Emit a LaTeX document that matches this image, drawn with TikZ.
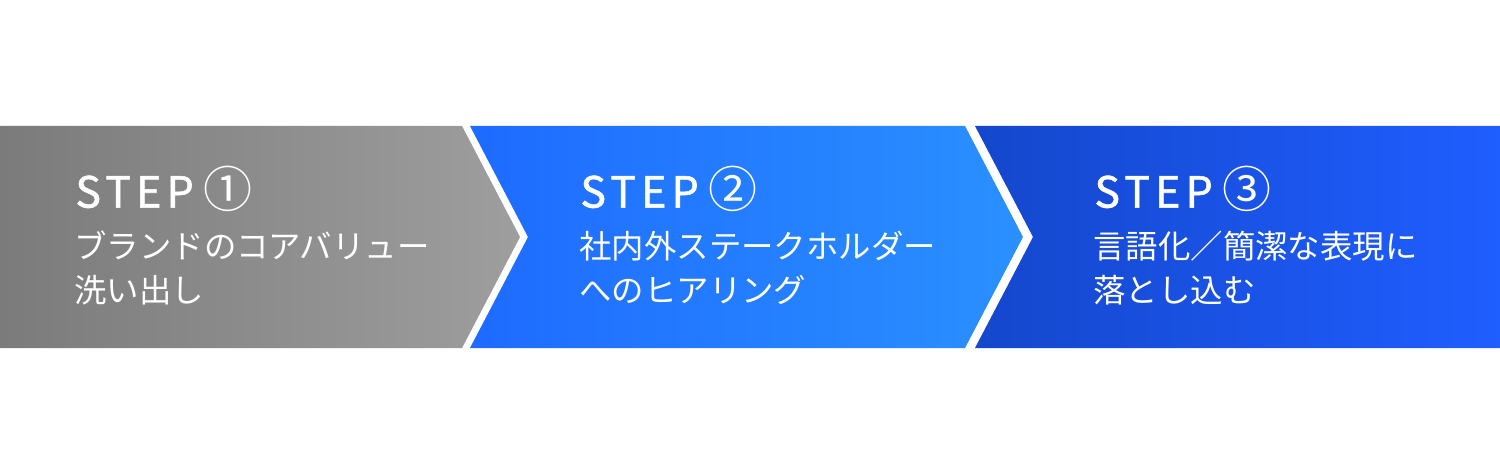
\documentclass[tikz,border=0pt]{standalone}
\usepackage{fontspec}
\setmainfont{Noto Sans CJK JP}
\newfontfamily\circfont{Noto Sans CJK JP}
\usepackage{xcolor}
\definecolor{grayL}{RGB}{122,123,122}
\definecolor{grayR}{RGB}{157,158,157}
\definecolor{blueL}{RGB}{30,107,255}
\definecolor{blueR}{RGB}{42,144,255}
\definecolor{navyL}{RGB}{20,71,204}
\definecolor{navyR}{RGB}{31,94,255}
\newcommand{\circnum}[1]{\hspace{5pt}{\circfont\fontsize{24.5}{25}\selectfont #1}}

\begin{document}
\begin{tikzpicture}[x=0.5pt, y=-0.5pt]
\tikzstyle{stepname} = [anchor=west, inner sep=0pt, text=white, font=\addfontfeature{LetterSpace=12,FakeBold=1.2}\fontsize{21.5}{25}\selectfont]
\tikzstyle{stepdesc} = [anchor=west, inner sep=0pt, text=white, align=left, font=\fontsize{16.2}{22}\selectfont]
\fill[white] (0,0) rectangle (1500,476);
% arrows
\shade[left color=grayL, right color=grayR] (0,126) -- (462,126) -- (520,237) -- (462,348) -- (0,348) -- cycle;
\shade[left color=blueL, right color=blueR] (470,126) -- (965,126) -- (1023,237) -- (965,348) -- (470,348) -- (528,237) -- cycle;
\shade[left color=navyL, right color=navyR] (975,126) -- (1500,126) -- (1500,348) -- (975,348) -- (1033,237) -- cycle;
% texts
\node[stepname] (t1) at (75,189) {STEP\circnum{①}};
\node[stepdesc] (d1) at (74,268) {ブランドのコアバリュー\\洗い出し};
\node[stepname] (t2) at (580,189) {STEP\circnum{②}};
\node[stepdesc] (d2) at (579,268) {社内外ステークホルダー\\へのヒアリング};
\node[stepname] (t3) at (1094,189) {STEP\circnum{③}};
\node[stepdesc] (d3) at (1093,268) {言語化／簡潔な表現に\\落とし込む};
\end{tikzpicture}
\end{document}
